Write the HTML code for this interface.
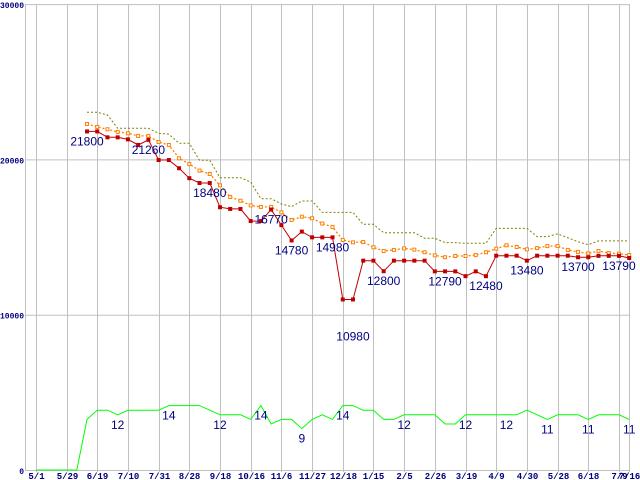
<!DOCTYPE html>
<html><head><meta charset="utf-8"><style>
html,body{margin:0;padding:0;background:#fff;}
svg{display:block;font-family:"Liberation Sans",sans-serif;}
</style></head><body>
<svg id="chart" width="640" height="480" viewBox="0 0 640 480" xmlns="http://www.w3.org/2000/svg">
<g id="grid"></g>
<g id="series"></g>
<g id="labels"></g>
</svg>
<script>
const xTickLabels = ["5/1","5/29","6/19","7/10","7/31","8/28","9/18","10/16","11/6","11/27","12/18","1/15","2/5","2/26","3/19","4/9","4/30","5/28","6/18","7/9","7/16"];
const xTickIdx = [-5,-2,1,4,7,10,13,16,19,22,25,28,31,34,37,40,43,46,49,52,53];
const yTicks = [0,10000,20000,30000];
const redVals = [21800,21800,21420,21420,21290,20930,21260,19960,19960,19430,18790,18480,18480,16920,16810,16810,16030,16030,16770,15770,14780,15350,14980,14980,14980,10980,10980,13480,13480,12800,13480,13480,13480,13480,12790,12790,12790,12480,12790,12480,13800,13800,13800,13480,13800,13800,13800,13800,13700,13700,13790,13790,13790,13650];
const orangeVals = [22280,22090,21940,21770,21680,21510,21510,21120,20930,20070,19700,19280,19060,18330,17580,17340,17040,16940,16940,16590,16100,16310,16210,15870,15650,14810,14660,14680,14340,14100,14170,14270,14190,14020,13820,13700,13780,13780,13840,14020,14250,14470,14360,14210,14290,14420,14420,14170,14040,13950,14100,13970,13930,13840];
const oliveVals = [23030,23030,22860,22000,22000,22000,22000,21680,21620,21040,21040,19940,19940,18820,18820,18820,18540,17470,17470,17130,16960,17320,17320,16590,16590,16590,16590,15820,15820,15280,15280,15280,15280,14920,14920,14640,14640,14600,14600,14600,15560,15560,15560,15560,15030,15030,15200,14960,14700,14510,14750,14750,14750,14750];
const greenLead = [0,0,0,0,0];
const greenVals = [11,13,13,12,13,13,13,13,14,14,14,14,13,12,12,12,11,14,10,11,11,9,11,12,11,14,14,13,13,11,11,12,12,12,12,10,10,12,12,12,12,12,12,13,12,11,12,12,12,11,12,12,12,11];
const redLabelIdx = [0,6,12,18,20,24,26,29,35,39,43,48,52];
const greenLabelIdx = [3,8,13,17,21,25,31,37,41,45,49,53];

const NS="http://www.w3.org/2000/svg";
function X(i){return 87+i*10.23;}
function Y(v){return 470-v*0.01553;}
function YG(v){return 470-v*4.6;}
function mk(tag,parent,attrs){const e=document.createElementNS(NS,tag);for(const k in attrs)e.setAttribute(k,attrs[k]);parent.appendChild(e);return e;}
const grid=document.getElementById('grid'),ser=document.getElementById('series'),lab=document.getElementById('labels');

yTicks.forEach(v=>{
  const l=mk('line',grid,{x1:25,x2:630,y1:Y(v)+0.5,y2:Y(v)+0.5,stroke:'#c0c0c0','stroke-width':1});
  
  
  const t=mk('text',grid,{x:24,y:Y(v)+4,'text-anchor':'end','font-size':8,'font-weight':'bold',fill:'#000080','font-family':'Liberation Mono, monospace'});
  t.textContent=v;
  
  
});
const ax=mk('line',grid,{x1:25.5,x2:25.5,y1:4,y2:471,stroke:'#c0c0c0','stroke-width':1});


xTickIdx.forEach((k,j)=>{
  const x=Math.round(X(k))+0.5;
  const l=mk('line',grid,{x1:x,x2:x,y1:4,y2:472,stroke:'#c0c0c0','stroke-width':1});
  
  
  const t=mk('text',grid,{x:x,y:479,'text-anchor':'middle','font-size':9,'font-weight':'bold',fill:'#000080','font-family':'Liberation Mono, monospace'});
  t.textContent=xTickLabels[j];
  
  
});

function pts(vals,yf,off){return vals.map((v,i)=>X(i+off).toFixed(1)+','+yf(v).toFixed(1)).join(' ');}
const ol=mk('polyline',ser,{points:pts(oliveVals,Y,0),fill:'none',stroke:'#808000','stroke-width':1,'stroke-dasharray':'2,2'});


const or=mk('polyline',ser,{points:pts(orangeVals,Y,0),fill:'none',stroke:'#ff8000','stroke-width':1.3,'stroke-dasharray':'2,2'});


orangeVals.forEach((v,i)=>{
  const r=mk('rect',ser,{x:X(i)-1.5,y:Y(v)-1.5,width:3,height:3,fill:'#fff',stroke:'#ff8000','stroke-width':1});
  
  
});
const rl=mk('polyline',ser,{points:pts(redVals,Y,0),fill:'none',stroke:'#c00000','stroke-width':1});


redVals.forEach((v,i)=>{
  const r=mk('rect',ser,{x:X(i)-2,y:Y(v)-2,width:4,height:4,fill:'#c00000'});
  
  
});
const gAll=greenLead.concat(greenVals);
const gl=mk('polyline',ser,{points:pts(gAll,YG,-greenLead.length),fill:'none',stroke:'#00ff00','stroke-width':1});



redLabelIdx.forEach(i=>{
  const dy = (redVals[i] < 12000) ? 41 : 14;
  const t=mk('text',lab,{x:X(i),y:Y(redVals[i])+dy,'text-anchor':'middle','font-size':12,fill:'#000080'});
  t.textContent=redVals[i];
  
  
});
greenLabelIdx.forEach(i=>{
  const t=mk('text',lab,{x:X(i),y:YG(greenVals[i])+14,'text-anchor':'middle','font-size':12,fill:'#000080'});
  t.textContent=greenVals[i];
  
  
});
</script>
</body></html>
